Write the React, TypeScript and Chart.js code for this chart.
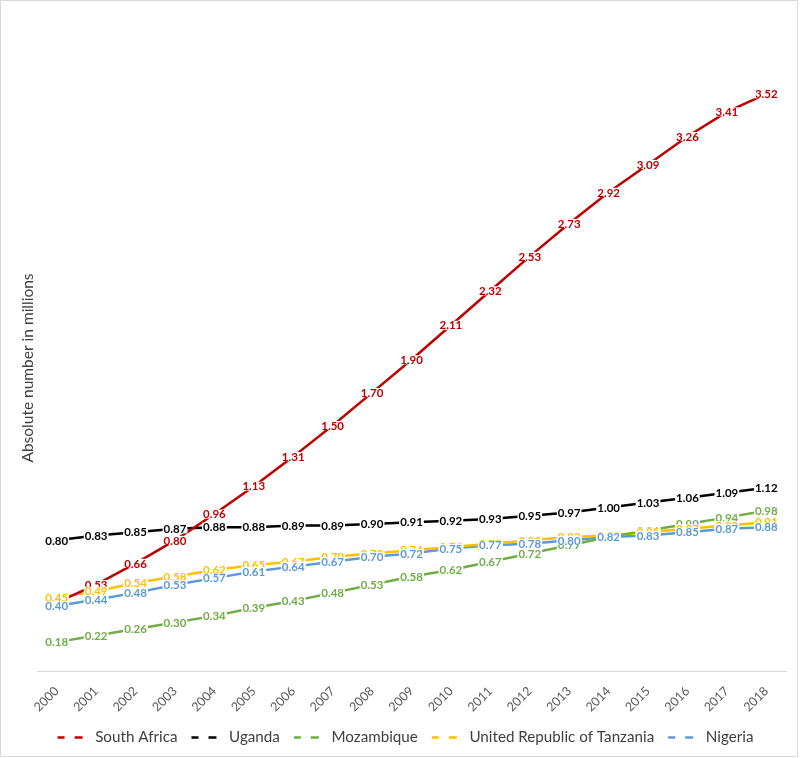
import React, { useEffect, useRef } from "react";
import { Chart, registerables } from "chart.js";

Chart.register(...registerables);

const years = ["2000","2001","2002","2003","2004","2005","2006","2007","2008","2009","2010","2011","2012","2013","2014","2015","2016","2017","2018"];
const southAfrica = [0.42,0.53,0.66,0.80,0.96,1.13,1.31,1.50,1.70,1.90,2.11,2.32,2.53,2.73,2.92,3.09,3.26,3.41,3.52];
const uganda = [0.80,0.83,0.85,0.87,0.88,0.88,0.89,0.89,0.90,0.91,0.92,0.93,0.95,0.97,1.00,1.03,1.06,1.09,1.12];
const mozambique = [0.18,0.22,0.26,0.30,0.34,0.39,0.43,0.48,0.53,0.58,0.62,0.67,0.72,0.77,0.82,0.86,0.90,0.94,0.98];
const tanzania = [0.45,0.49,0.54,0.58,0.62,0.65,0.67,0.70,0.72,0.74,0.76,0.78,0.80,0.82,0.83,0.85,0.87,0.89,0.91];
const nigeria = [0.40,0.44,0.48,0.53,0.57,0.61,0.64,0.67,0.70,0.72,0.75,0.77,0.78,0.80,0.82,0.83,0.85,0.87,0.88];

const seriesNames = ["South Africa","Uganda","Mozambique","United Republic of Tanzania","Nigeria"];
const seriesColors = ["#C00000","#000000","#70AD47","#FFC000","#5B9BD5"];
const yTitle = "Absolute number in millions";

const frame = {
  id: "frame",
  beforeDraw(chart: any) {
    const { ctx, width, height } = chart;
    ctx.save();
    ctx.fillStyle = "#ffffff";
    ctx.fillRect(0, 0, width, height);
    ctx.strokeStyle = "#d9d9d9";
    ctx.lineWidth = 1;
    ctx.strokeRect(0.5, 0.5, 797, 756);
    ctx.restore();
  },
  afterDraw(chart: any) {
    const ctx = chart.ctx;
    ctx.save();
    ctx.translate(28, 368);
    ctx.rotate(-Math.PI / 2);
    ctx.font = "15.5px Lato";
    ctx.fillStyle = "#404040";
    ctx.textAlign = "center";
    ctx.textBaseline = "middle";
    ctx.fillText(yTitle, 0, 0);
    ctx.restore();
  },
};

const pointLabels = {
  id: "pointLabels",
  afterDatasetsDraw(chart: any) {
    const ctx = chart.ctx;
    ctx.save();
    ctx.font = "bold 11.5px Lato";
    ctx.textAlign = "center";
    ctx.textBaseline = "middle";
    chart.data.datasets.forEach((ds: any, i: number) => {
      const meta = chart.getDatasetMeta(i);
      meta.data.forEach((pt: any, j: number) => {
        const t = Number(ds.data[j]).toFixed(2);
        const w = ctx.measureText(t).width + 2;
        ctx.fillStyle = "#ffffff";
        ctx.fillRect(pt.x - w / 2, pt.y - 4.5, w, 9);
        ctx.fillStyle = ds.borderColor;
        ctx.fillText(t, pt.x, pt.y + 0.5);
      });
    });
    ctx.restore();
  },
};

export default function App() {
  const ref = useRef<HTMLCanvasElement>(null);
  useEffect(() => {
    const all = [southAfrica, uganda, mozambique, tanzania, nigeria];
    const chart = new Chart(ref.current!, {
      type: "line",
      data: {
        labels: years,
        datasets: all.map((d, i) => ({
          label: seriesNames[i],
          data: d,
          borderColor: seriesColors[i],
          backgroundColor: seriesColors[i],
          borderWidth: 2.5,
          pointRadius: 0,
          tension: 0,
          fill: false,
        })),
      },
      options: {
        animation: false,
        responsive: false,
        layout: { padding: { left: 14, right: 14, top: 15, bottom: 3 } },
        plugins: {
          tooltip: { enabled: false },
          legend: {
            position: "bottom",
            labels: {
              font: { family: "Lato", size: 15.2 },
              color: "#404040",
              boxWidth: 41,
              boxHeight: 0,
              padding: 3,
              generateLabels: (chart: any) =>
                chart.data.datasets.map((ds: any, i: number) => ({
                  text: ds.label,
                  fillStyle: "rgba(0,0,0,0)",
                  strokeStyle: ds.borderColor,
                  fontColor: "#404040",
                  lineWidth: 2.5,
                  lineDash: [0, 11, 7, 10, 8, 100],
                  lineCap: "butt",
                  hidden: false,
                  datasetIndex: i,
                })),
            },
          },
        },
        scales: {
          x: {
            offset: true,
            grid: { display: false, drawTicks: false },
            border: { display: true, color: "#d9d9d9", width: 1 },
            ticks: {
              minRotation: 45,
              maxRotation: 45,
              autoSkip: false,
              padding: 12,
              color: "#595959",
              font: { family: "Lato", size: 12.5 },
            },
          },
          y: {
            display: true,
            min: 0,
            max: 4,
            grid: { display: false, drawTicks: false },
            border: { display: false },
            ticks: { display: false },
            afterFit: (scale: any) => {
              scale.width = 23;
            },
          },
        },
      },
      plugins: [frame, pointLabels],
    } as any);
    return () => chart.destroy();
  }, []);
  return (
    <div style={{ position: "fixed", left: 0, top: 0, width: 800, height: 758 }}>
      <canvas ref={ref} width={800} height={758} style={{ display: "block" }} />
    </div>
  );
}
